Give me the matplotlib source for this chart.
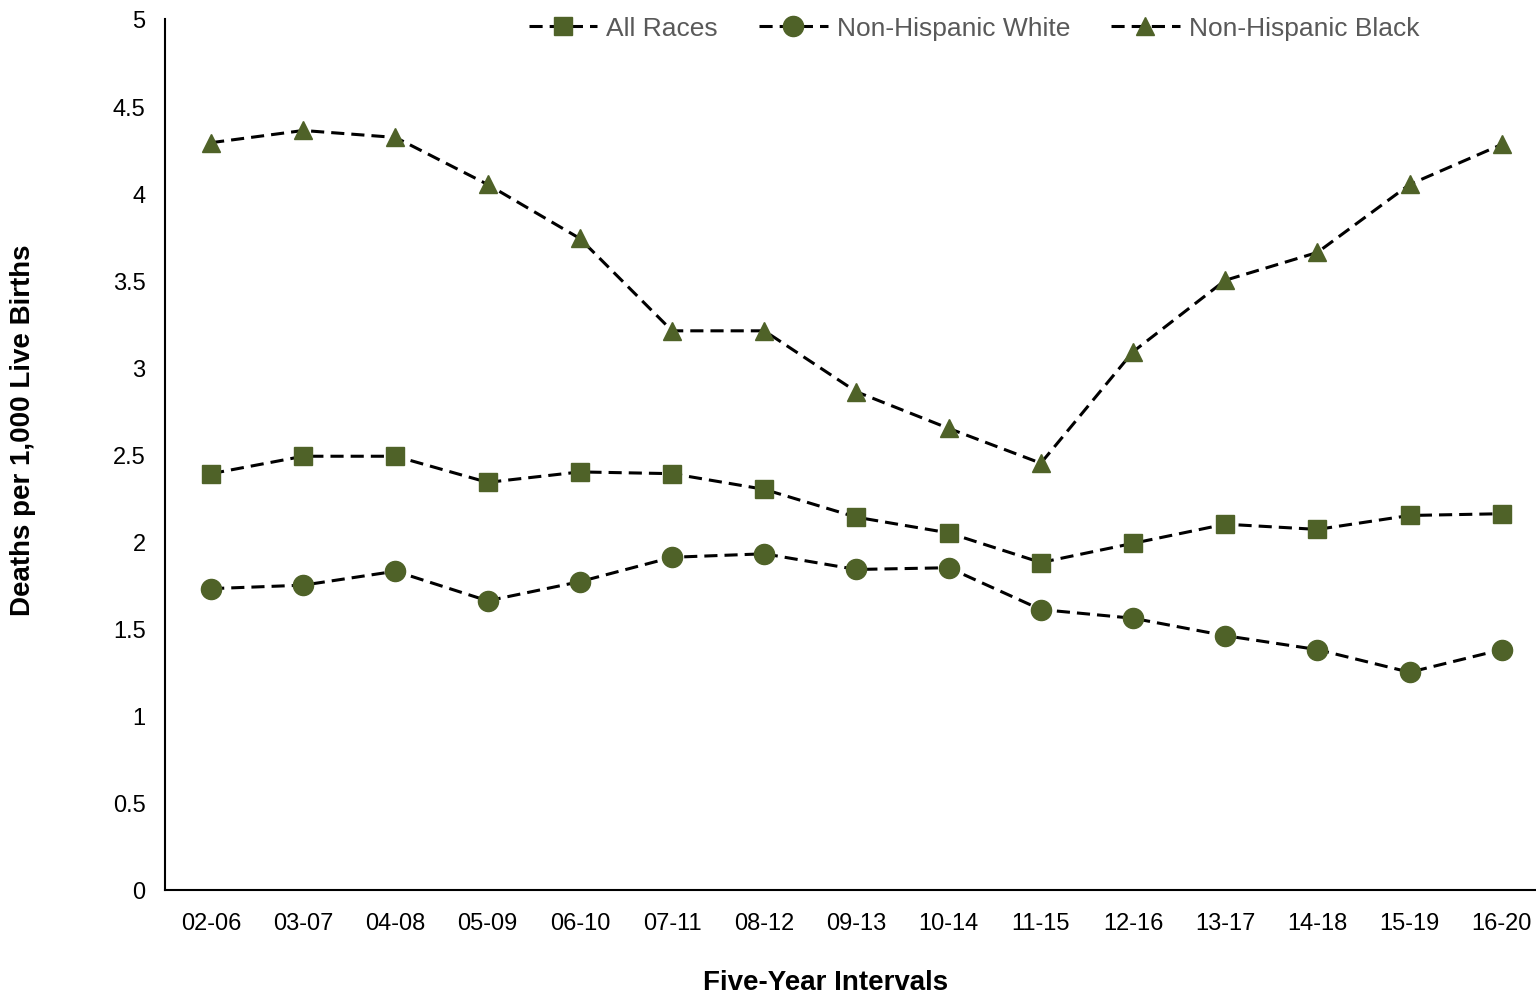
import matplotlib
matplotlib.use("Agg")
import matplotlib.pyplot as plt

plt.rcParams['font.family'] = ['Liberation Sans', 'DejaVu Sans']

intervals = ["02-06", "03-07", "04-08", "05-09", "06-10", "07-11", "08-12", "09-13",
             "10-14", "11-15", "12-16", "13-17", "14-18", "15-19", "16-20"]
all_races = [2.39, 2.49, 2.49, 2.34, 2.40, 2.39, 2.30, 2.14, 2.05, 1.88, 1.99, 2.10, 2.07, 2.15, 2.16]
nh_white = [1.73, 1.75, 1.83, 1.66, 1.77, 1.91, 1.93, 1.84, 1.85, 1.61, 1.56, 1.46, 1.38, 1.25, 1.38]
nh_black = [4.29, 4.36, 4.32, 4.05, 3.74, 3.21, 3.21, 2.86, 2.65, 2.45, 3.09, 3.50, 3.66, 4.05, 4.28]

green = "#4F6228"
fig = plt.figure(figsize=(15.36, 9.95), dpi=100)
ax = fig.add_axes([165/1536, 1-891/995, (1535-165)/1536, (891-20)/995])

x = list(range(len(intervals)))
common = dict(color="black", lw=2.2, dashes=(4.3, 2.3), markerfacecolor=green, markeredgecolor=green)
ax.plot(x, all_races, marker="s", markersize=13, label="All Races", **common)
ax.plot(x, nh_white, marker="o", markersize=14.5, label="Non-Hispanic White", **common)
ax.plot(x, nh_black, marker="^", markersize=13, label="Non-Hispanic Black", **common)

ax.set_xlim(-0.5, 14.36)
ax.set_ylim(0, 5)
ax.set_yticks([0, 0.5, 1, 1.5, 2, 2.5, 3, 3.5, 4, 4.5, 5])
ax.set_yticklabels(["0", "0.5", "1", "1.5", "2", "2.5", "3", "3.5", "4", "4.5", "5"])
ax.set_xticks(x)
ax.set_xticklabels(intervals)
ax.tick_params(axis='both', length=0, labelsize=17, colors="black")
ax.tick_params(axis='y', pad=14)
ax.tick_params(axis='x', pad=16)
for s in ["top", "right"]:
    ax.spines[s].set_visible(False)
for s in ["left", "bottom"]:
    ax.spines[s].set_linewidth(1.5)
    ax.spines[s].set_color("black")

ax.set_xlabel("Five-Year Intervals", fontsize=20, fontweight="bold")
ax.xaxis.set_label_coords((826-165)/1370, -(983-891)/871)
ax.xaxis.label.set_va("center")
ax.set_ylabel("Deaths per 1,000 Live Births", fontsize=20, fontweight="bold")
ax.yaxis.set_label_coords(-(165-23)/1370, (891-430)/871)
ax.yaxis.label.set_va("center")

leg = ax.legend(loc="upper center", bbox_to_anchor=(0.5905, 1.031), ncol=3, frameon=False,
                fontsize=19, handlelength=2.6, handletextpad=0.35, columnspacing=1.55)
for t in leg.get_texts():
    t.set_color("#595959")

fig.savefig("out.png", dpi=100)
